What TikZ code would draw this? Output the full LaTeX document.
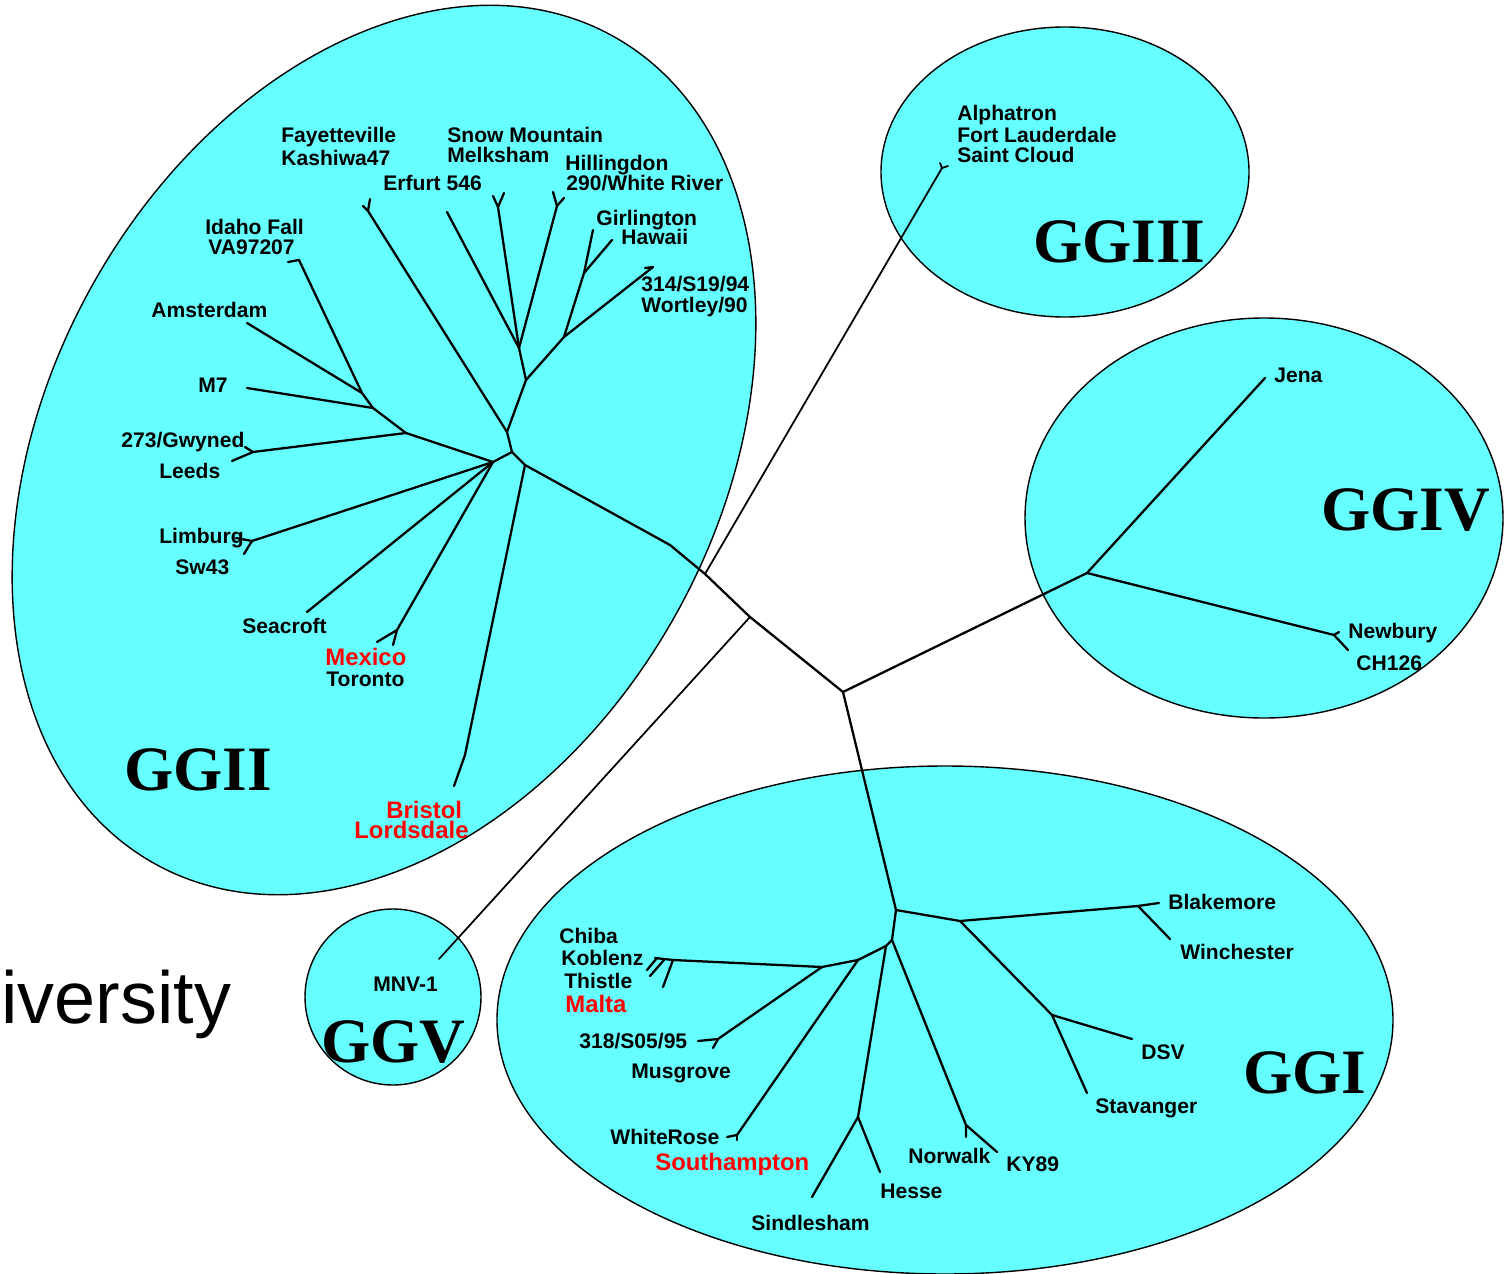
\documentclass[tikz,border=0pt]{standalone}
\usepackage{fontspec}
\setmainfont{Liberation Sans}
\newfontfamily\cladefont{Liberation Serif}
\definecolor{ggcyan}{RGB}{102,255,255}
\definecolor{ggred}{RGB}{255,0,0}

\tikzset{
  group/.style={draw=black, line width=0.8pt, fill=ggcyan},
  branch/.style={line width=1.3pt, line join=round, line cap=round},
  thinbranch/.style={line width=1pt, line cap=round},
  strain/.style={font=\bfseries\fontsize{12}{12}\selectfont, anchor=base west, inner sep=0pt},
  redstrain/.style={strain, font=\bfseries\fontsize{13.6}{13.6}\selectfont, text=ggred},
  clade/.style={font=\cladefont\bfseries\fontsize{36}{36}\selectfont, anchor=base west, inner sep=0pt}
}

\begin{document}
\begin{tikzpicture}[x=0.02cm, y=-0.02cm]
\useasboundingbox (0,0) rectangle (1505,1274);

% genogroups
\draw[group, rotate around={61.1:(384,450)}] (384,450) ellipse [x radius=473, y radius=335];
\draw[group] (1065,172) ellipse [x radius=184, y radius=145];
\draw[group] (1264,518) ellipse [x radius=239, y radius=200];
\draw[group] (945,1020) ellipse [x radius=448, y radius=254];
\draw[group] (393,997) circle [radius=88];

\node[font=\fontsize{42}{42}\selectfont, anchor=base west, inner sep=0pt] (div) at (1,1023) {iversity};

% backbone
\coordinate (root) at (843,692);
\coordinate (jv) at (750,617);
\coordinate (jiii) at (705,574);
\coordinate (kink) at (670,545);
\coordinate (gii) at (525,465);
\coordinate (giv) at (1087,573);
\coordinate (gi) at (896,910);
\draw[branch] (gi) -- (root) -- (jv) -- (jiii) -- (kink) -- (gii);
\draw[branch] (root) -- (giv);

% GGIII and GGV
\coordinate (alpha) at (942,168);
\coordinate (mnv) at (439,959);
\draw[thinbranch] (jiii) -- (alpha) -- (940,163);
\draw[thinbranch] (alpha) -- (948,166);
\draw[thinbranch] (jv) -- (mnv);

% GGIV
\coordinate (jena) at (1265,378);
\coordinate (newb) at (1334,635);
\draw[branch] (jena) -- (giv) -- (newb) -- (1339,632);
\draw[branch] (newb) -- (1348,650);

% GGI
\coordinate (gia) at (960,921);
\coordinate (blak) at (1138,906);
\coordinate (dsvj) at (1052,1015);
\coordinate (gib) at (892,940);
\coordinate (norw) at (966,1125);
\coordinate (gic) at (886,946);
\coordinate (hesj) at (858,1117);
\coordinate (gid) at (858,960);
\coordinate (chij) at (822,967);
\coordinate (chiba) at (673,960);
\coordinate (musg) at (718,1039);
\coordinate (whro) at (737,1135);
\draw[branch] (gi) -- (gia) -- (blak) -- (1159,903);
\draw[branch] (blak) -- (1170,939);
\draw[branch] (gia) -- (dsvj) -- (1132,1039);
\draw[branch] (dsvj) -- (1087,1093);
\draw[branch] (gi) -- (gib) -- (gic) -- (gid) -- (chij) -- (chiba) -- (655,958);
\draw[branch] (gib) -- (norw) -- (966,1137);
\draw[branch] (norw) -- (997,1152);
\draw[branch] (gic) -- (hesj) -- (812,1197);
\draw[branch] (hesj) -- (880,1172);
\draw[branch] (chiba) -- (663,987);
\draw[branch] (664,960) -- (650,976);
\draw[branch] (657,958) -- (647,970);
\draw[branch] (chij) -- (musg) -- (698,1041);
\draw[branch] (musg) -- (713,1048);
\draw[branch] (gid) -- (whro) -- (727,1137);
\draw[branch] (whro) -- (737,1140);

% GGII
\coordinate (iia) at (512,452);
\coordinate (iib) at (507,432);
\coordinate (iic) at (493,462);
\coordinate (brist) at (465,755);
\coordinate (fay) at (368,211);
\coordinate (iid) at (526,380);
\coordinate (iie) at (519,348);
\coordinate (erf) at (447,212);
\coordinate (snow) at (498,207);
\coordinate (hill) at (557,206);
\coordinate (iif) at (564,337);
\coordinate (girj) at (584,273);
\coordinate (wort) at (653,267);
\coordinate (leftj) at (406,433);
\coordinate (m7j) at (373,408);
\coordinate (amsj) at (362,393);
\coordinate (gwyn) at (253,452);
\coordinate (idaho) at (299,260);
\coordinate (limb) at (252,541);
\coordinate (mexi) at (397,630);
\draw[branch] (gii) -- (iia) -- (iib) -- (fay) -- (370,199);
\draw[branch] (fay) -- (363,206);
\draw[branch] (gii) -- (brist) -- (454,786);
\draw[branch] (iib) -- (iid) -- (iie) -- (erf);
\draw[branch] (iie) -- (snow) -- (493,196);
\draw[branch] (snow) -- (504,193);
\draw[branch] (iie) -- (hill) -- (553,192);
\draw[branch] (hill) -- (564,198);
\draw[branch] (iid) -- (iif) -- (wort) -- (645,268);
\draw[branch] (iif) -- (girj) -- (593,230);
\draw[branch] (girj) -- (612,240);
\draw[branch] (iia) -- (iic) -- (leftj) -- (m7j) -- (amsj) -- (idaho) -- (288,262);
\draw[branch] (amsj) -- (247,323);
\draw[branch] (m7j) -- (247,388);
\draw[branch] (leftj) -- (gwyn) -- (245,447);
\draw[branch] (gwyn) -- (232,461);
\draw[branch] (iic) -- (limb) -- (236,538);
\draw[branch] (limb) -- (244,554);
\draw[branch] (iic) -- (307,612);
\draw[branch] (iic) -- (mexi) -- (377,642);
\draw[branch] (mexi) -- (393,645);

% strain names
\node[strain] (t1) at (281,143) {Fayetteville};
\node[strain] (t2) at (281,166) {Kashiwa47};
\node[strain] (t3) at (447,143) {Snow Mountain};
\node[strain] (t4) at (447,163) {Melksham};
\node[strain] (t5) at (565,171) {Hillingdon};
\node[strain] (t6) at (566,191) {290/White River};
\node[strain] (t7) at (383,191) {Erfurt 546};
\node[strain] (t8) at (596,225) {Girlington};
\node[strain] (t9) at (621,244) {Hawaii};
\node[strain] (t10) at (641,291) {314/S19/94};
\node[strain] (t11) at (641,312) {Wortley/90};
\node[strain] (t12) at (205,235) {Idaho Fall};
\node[strain] (t13) at (208,254) {VA97207};
\node[strain] (t14) at (151,317) {Amsterdam};
\node[strain] (t15) at (198,392) {M7};
\node[strain] (t16) at (121,447) {273/Gwyned};
\node[strain] (t17) at (159,478) {Leeds};
\node[strain] (t18) at (159,543) {Limburg};
\node[strain] (t19) at (175,574) {Sw43};
\node[strain] (t20) at (242,633) {Seacroft};
\node[redstrain] (t21) at (325,665) {Mexico};
\node[strain] (t22) at (326,686) {Toronto};
\node[redstrain] (t23) at (386,818) {Bristol};
\node[redstrain] (t24) at (354,838) {Lordsdale};

\node[strain] (t25) at (957,121) {Alphatron};
\node[strain] (t26) at (957,143) {Fort Lauderdale};
\node[strain] (t27) at (957,162) {Saint Cloud};

\node[strain] (t28) at (1274,382) {Jena};
\node[strain] (t29) at (1348,638) {Newbury};
\node[strain] (t30) at (1356,670) {CH126};

\node[strain] (t31) at (373,991) {MNV-1};

\node[strain] (t32) at (1168,909) {Blakemore};
\node[strain] (t33) at (1180,959) {Winchester};
\node[strain] (t34) at (1141,1059) {DSV};
\node[strain] (t35) at (1095,1113) {Stavanger};
\node[strain] (t36) at (559,943) {Chiba};
\node[strain] (t37) at (561,965) {Koblenz};
\node[strain] (t38) at (564,988) {Thistle};
\node[redstrain] (t39) at (565,1012) {Malta};
\node[strain] (t40) at (579,1048) {318/S05/95};
\node[strain] (t41) at (631,1078) {Musgrove};
\node[strain] (t42) at (610,1144) {WhiteRose};
\node[redstrain] (t43) at (655,1170) {Southampton};
\node[strain] (t44) at (751,1230) {Sindlesham};
\node[strain] (t45) at (880,1198) {Hesse};
\node[strain] (t46) at (908,1163) {Norwalk};
\node[strain] (t47) at (1006,1171) {KY89};

% genogroup names
\node[clade] (lii) at (124,790) {GGII};
\node[clade] (liii) at (1033,262) {GGIII};
\node[clade] (liv) at (1321,530) {GGIV};
\node[clade] (lv) at (321,1062) {GGV};
\node[clade] (li) at (1243,1093) {GGI};
\end{tikzpicture}
\end{document}
